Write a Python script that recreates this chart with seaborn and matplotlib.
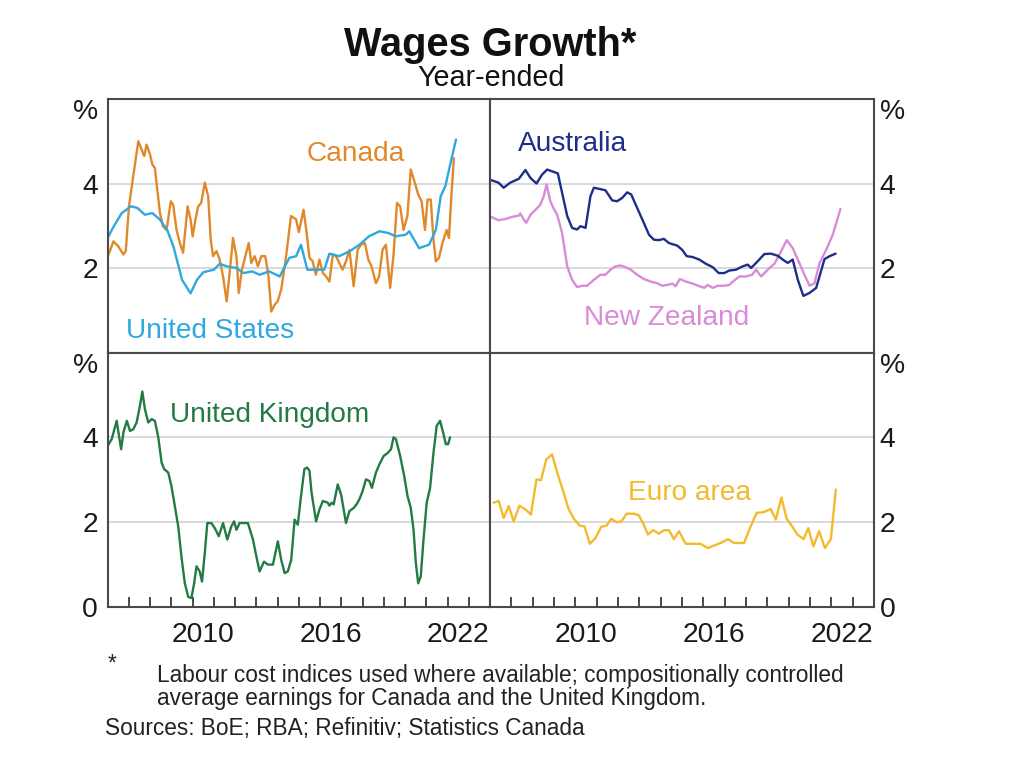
import matplotlib.pyplot as plt
import seaborn as sns
from matplotlib.ticker import FixedLocator

sns.set_style("white")
plt.rcParams['font.family'] = ['Liberation Sans', 'DejaVu Sans']

# ---- data (year, % year-ended) ----
can_x = [2006.0, 2006.1, 2006.27, 2006.5, 2006.74, 2006.85, 2007.0, 2007.2, 2007.44, 2007.6,
         2007.72, 2007.83, 2007.99, 2008.1, 2008.22, 2008.35, 2008.46, 2008.6, 2008.77, 2008.97,
         2009.08, 2009.24, 2009.4, 2009.55, 2009.76, 2009.9, 2010.0, 2010.13, 2010.26, 2010.4,
         2010.57, 2010.73, 2010.85, 2010.96, 2011.12, 2011.27, 2011.43, 2011.6, 2011.74, 2011.9,
         2012.06, 2012.17, 2012.32, 2012.48, 2012.64, 2012.76, 2012.92, 2013.07, 2013.23, 2013.42,
         2013.57, 2013.7, 2013.86, 2014.0, 2014.17, 2014.4, 2014.63, 2014.87, 2015.0, 2015.22,
         2015.35, 2015.5, 2015.65, 2015.8, 2015.97, 2016.13, 2016.28, 2016.44, 2016.6, 2016.75,
         2016.9, 2017.06, 2017.22, 2017.38, 2017.58, 2017.77, 2017.92, 2018.11, 2018.27, 2018.42,
         2018.63, 2018.78, 2018.94, 2019.1, 2019.3, 2019.46, 2019.62, 2019.77, 2019.93, 2020.11,
         2020.27, 2020.46, 2020.62, 2020.78, 2020.94, 2021.06, 2021.21, 2021.34, 2021.45, 2021.6,
         2021.76, 2021.96, 2022.07, 2022.18, 2022.3]
can_y = [2.28, 2.4, 2.63, 2.51, 2.32, 2.4, 3.46, 4.17, 5.0, 4.8,
         4.65, 4.92, 4.69, 4.45, 4.37, 3.78, 3.3, 2.99, 2.9, 3.58,
         3.5, 2.9, 2.59, 2.36, 3.46, 3.15, 2.75, 3.15, 3.46, 3.54,
         4.02, 3.7, 2.67, 2.28, 2.4, 2.2, 1.8, 1.21, 1.88, 2.71,
         2.28, 1.41, 1.96, 2.28, 2.59, 2.12, 2.28, 2.04, 2.28, 2.28,
         1.8, 0.97, 1.13, 1.21, 1.49, 2.28, 3.23, 3.15, 2.85, 3.38,
         2.9, 2.24, 2.16, 1.84, 2.2, 1.88, 1.8, 1.68, 2.32, 2.28,
         2.12, 1.96, 2.16, 2.43, 1.57, 2.43, 2.55, 2.59, 2.2, 2.04,
         1.64, 1.8, 2.43, 2.55, 1.53, 2.32, 3.54, 3.46, 2.9, 3.23,
         4.33, 4.02, 3.74, 3.58, 2.9, 3.62, 3.62, 2.67, 2.16, 2.24,
         2.59, 2.9, 2.71, 3.7, 4.6]

us_x = [2006.0, 2006.3, 2006.66, 2007.1, 2007.4, 2007.75, 2008.1, 2008.45, 2008.8, 2009.1,
        2009.5, 2009.9, 2010.2, 2010.5, 2011.0, 2011.27, 2011.6, 2012.05, 2012.4, 2012.8,
        2013.15, 2013.6, 2014.1, 2014.55, 2014.87, 2015.1, 2015.4, 2015.8, 2016.2, 2016.44,
        2016.9, 2017.4, 2017.85, 2018.3, 2018.8, 2019.2, 2019.57, 2020.04, 2020.2, 2020.66,
        2021.13, 2021.45, 2021.68, 2021.9, 2022.15, 2022.4]
us_y = [2.72, 3.0, 3.3, 3.46, 3.42, 3.26, 3.3, 3.15, 2.9, 2.5,
        1.72, 1.4, 1.72, 1.9, 1.96, 2.1, 2.04, 2.0, 1.88, 1.92,
        1.84, 1.92, 1.8, 2.24, 2.28, 2.55, 1.96, 1.96, 1.96, 2.34,
        2.28, 2.4, 2.55, 2.75, 2.87, 2.83, 2.75, 2.79, 2.87, 2.47,
        2.55, 2.9, 3.7, 3.94, 4.5, 5.04]

aus_x = [2006.05, 2006.4, 2006.64, 2006.95, 2007.35, 2007.66, 2007.9, 2008.18, 2008.44, 2008.68,
         2008.9, 2009.18, 2009.38, 2009.62, 2009.85, 2010.08, 2010.24, 2010.48, 2010.71, 2010.87,
         2011.15, 2011.41, 2011.73, 2011.96, 2012.2, 2012.43, 2012.62, 2012.9, 2013.21, 2013.45,
         2013.68, 2013.92, 2014.15, 2014.39, 2014.78, 2015.01, 2015.22, 2015.5, 2015.81, 2016.12,
         2016.44, 2016.72, 2016.98, 2017.22, 2017.53, 2017.85, 2018.08, 2018.24, 2018.55, 2018.86,
         2019.17, 2019.49, 2019.72, 2019.96, 2020.19, 2020.43, 2020.69, 2020.98, 2021.29, 2021.68,
         2021.92, 2022.2]
aus_y = [4.08, 4.02, 3.9, 4.02, 4.11, 4.32, 4.13, 4.0, 4.21, 4.33,
         4.29, 4.24, 3.78, 3.23, 2.95, 2.91, 2.99, 2.95, 3.7, 3.9,
         3.87, 3.84, 3.6, 3.58, 3.66, 3.79, 3.74, 3.42, 3.07, 2.79,
         2.67, 2.66, 2.69, 2.59, 2.53, 2.43, 2.28, 2.26, 2.2, 2.1,
         2.02, 1.88, 1.88, 1.94, 1.96, 2.04, 2.08, 2.0, 2.16, 2.33,
         2.34, 2.29, 2.2, 2.12, 2.2, 1.72, 1.34, 1.41, 1.53, 2.21,
         2.28, 2.34]

nz_x = [2006.05, 2006.4, 2006.72, 2007.03, 2007.35, 2007.42, 2007.58, 2007.7, 2007.9, 2008.18,
        2008.36, 2008.52, 2008.65, 2008.83, 2008.99, 2009.15, 2009.38, 2009.62, 2009.85, 2010.08,
        2010.32, 2010.55, 2010.87, 2011.18, 2011.41, 2011.65, 2011.88, 2012.12, 2012.35, 2012.6,
        2012.9, 2013.21, 2013.53, 2013.84, 2014.08, 2014.31, 2014.55, 2014.7, 2014.9, 2015.18,
        2015.5, 2015.81, 2016.05, 2016.2, 2016.44, 2016.67, 2016.98, 2017.22, 2017.46, 2017.69,
        2018.0, 2018.29, 2018.47, 2018.71, 2019.02, 2019.33, 2019.57, 2019.76, 2019.91, 2020.19,
        2020.43, 2020.74, 2020.98, 2021.21, 2021.45, 2021.76, 2022.07, 2022.43]
nz_y = [3.21, 3.13, 3.16, 3.21, 3.24, 3.29, 3.15, 3.07, 3.26, 3.4,
        3.5, 3.7, 3.98, 3.58, 3.4, 3.26, 2.83, 2.04, 1.72, 1.55,
        1.58, 1.58, 1.72, 1.84, 1.84, 1.96, 2.04, 2.06, 2.02, 1.96,
        1.84, 1.74, 1.68, 1.64, 1.58, 1.6, 1.63, 1.57, 1.74, 1.68,
        1.63, 1.57, 1.53, 1.6, 1.53, 1.58, 1.58, 1.6, 1.71, 1.8,
        1.8, 1.84, 1.96, 1.8, 1.96, 2.1, 2.32, 2.51, 2.66, 2.47,
        2.2, 1.84, 1.58, 1.64, 2.12, 2.43, 2.79, 3.4]

uk_x = [2006.0, 2006.19, 2006.42, 2006.63, 2006.74, 2006.9, 2007.05, 2007.2, 2007.36, 2007.52,
        2007.63, 2007.75, 2007.91, 2008.07, 2008.22, 2008.38, 2008.54, 2008.66, 2008.85, 2009.0,
        2009.16, 2009.32, 2009.47, 2009.63, 2009.79, 2009.94, 2010.07, 2010.18, 2010.33, 2010.44,
        2010.57, 2010.69, 2010.88, 2011.04, 2011.23, 2011.43, 2011.63, 2011.82, 2011.95, 2012.06,
        2012.21, 2012.45, 2012.6, 2012.84, 2013.0, 2013.15, 2013.36, 2013.54, 2013.78, 2014.01,
        2014.17, 2014.33, 2014.48, 2014.64, 2014.8, 2014.95, 2015.1, 2015.26, 2015.39, 2015.5,
        2015.6, 2015.81, 2015.97, 2016.13, 2016.36, 2016.44, 2016.55, 2016.64, 2016.83, 2016.99,
        2017.22, 2017.38, 2017.59, 2017.74, 2017.85, 2018.0, 2018.16, 2018.32, 2018.44, 2018.63,
        2018.79, 2018.99, 2019.18, 2019.34, 2019.46, 2019.57, 2019.77, 2019.96, 2020.12, 2020.27,
        2020.4, 2020.51, 2020.62, 2020.74, 2020.87, 2021.02, 2021.18, 2021.34, 2021.49, 2021.65,
        2021.81, 2021.92, 2022.03, 2022.12]
uk_y = [3.8, 3.96, 4.39, 3.72, 4.12, 4.39, 4.15, 4.19, 4.35, 4.75,
        5.08, 4.67, 4.35, 4.43, 4.39, 4.0, 3.4, 3.25, 3.17, 2.85,
        2.38, 1.9, 1.19, 0.56, 0.24, 0.21, 0.56, 0.96, 0.84, 0.6,
        1.27, 1.98, 1.98, 1.86, 1.67, 1.98, 1.59, 1.9, 2.02, 1.82,
        1.98, 1.98, 1.98, 1.59, 1.19, 0.84, 1.07, 1.0, 1.0, 1.55,
        1.11, 0.8, 0.84, 1.11, 2.06, 1.94, 2.61, 3.25, 3.29, 3.21,
        2.69, 2.02, 2.3, 2.5, 2.46, 2.39, 2.46, 2.42, 2.89, 2.65,
        1.98, 2.26, 2.34, 2.44, 2.54, 2.73, 3.01, 2.97, 2.81, 3.17,
        3.36, 3.56, 3.63, 3.72, 4.0, 3.96, 3.56, 3.09, 2.61, 2.34,
        1.82, 1.03, 0.56, 0.72, 1.59, 2.46, 2.81, 3.64, 4.27, 4.39,
        4.08, 3.84, 3.84, 4.0]

eu_x = [2006.17, 2006.41, 2006.64, 2006.88, 2007.11, 2007.38, 2007.66, 2007.92, 2008.18, 2008.39,
        2008.64, 2008.91, 2009.15, 2009.43, 2009.69, 2009.96, 2010.21, 2010.43, 2010.68, 2010.95,
        2011.21, 2011.46, 2011.68, 2011.93, 2012.17, 2012.4, 2012.75, 2012.98, 2013.21, 2013.4,
        2013.65, 2013.92, 2014.15, 2014.39, 2014.62, 2014.86, 2015.17, 2015.48, 2015.87, 2016.22,
        2016.5, 2016.81, 2017.16, 2017.44, 2017.91, 2018.22, 2018.5, 2018.85, 2019.16, 2019.4,
        2019.66, 2019.91, 2020.18, 2020.41, 2020.7, 2020.92, 2021.16, 2021.43, 2021.7, 2021.98,
        2022.21]
eu_y = [2.46, 2.5, 2.1, 2.38, 2.02, 2.39, 2.3, 2.18, 3.01, 2.99,
        3.48, 3.6, 3.17, 2.73, 2.3, 2.06, 1.92, 1.9, 1.49, 1.63,
        1.89, 1.92, 2.08, 2.0, 2.02, 2.2, 2.2, 2.16, 1.94, 1.71,
        1.81, 1.73, 1.81, 1.81, 1.6, 1.79, 1.49, 1.49, 1.49, 1.39,
        1.45, 1.51, 1.6, 1.51, 1.51, 1.9, 2.22, 2.24, 2.31, 2.06,
        2.58, 2.08, 1.89, 1.71, 1.6, 1.86, 1.43, 1.79, 1.39, 1.6,
        2.77]

year_labels = ['2010', '2016', '2022']
year_label_pos = [2010.5, 2016.5, 2022.5]

c_can, c_us = '#E0892A', '#2FA8DE'
c_aus, c_nz = '#1D2D8A', '#D98BD6'
c_uk, c_eu = '#237A45', '#F4BA2E'

fig = plt.figure(figsize=(10.24, 7.68), dpi=100)
ax_tl = fig.add_axes([0.1052, 0.5410, 0.3733, 0.3301])
ax_tr = fig.add_axes([0.4785, 0.5410, 0.3750, 0.3301])
ax_bl = fig.add_axes([0.1052, 0.2096, 0.3733, 0.3314])
ax_br = fig.add_axes([0.4785, 0.2096, 0.3750, 0.3314])

tick_fs = 20.3


def style_panel(ax, side, bottom):
    ax.set_xlim(2006, 2024)
    ax.set_ylim(0, 6)
    for s in ax.spines.values():
        s.set_color('#4a4a4a')
        s.set_linewidth(1.5)
    for yv in (2, 4):
        ax.axhline(yv, color='#cfcfcf', lw=1.1, zorder=0)
    if bottom:
        ax.set_yticks([0, 2, 4, 6])
        ax.set_yticklabels(['0', '2', '4', '%'])
    else:
        ax.set_yticks([2, 4, 6])
        ax.set_yticklabels(['2', '4', '%'])
    if side == 'right':
        ax.yaxis.tick_right()
        ax.tick_params(axis='y', length=0, labelsize=tick_fs, pad=4, colors='#1a1a1a')
    else:
        ax.tick_params(axis='y', length=0, labelsize=tick_fs, pad=7, colors='#1a1a1a')
    for t in ax.yaxis.get_major_ticks():
        if t.label1.get_text() == '%' or t.label2.get_text() == '%':
            t.label1.set_va('top')
            t.label2.set_va('top')
    if bottom:
        ax.set_xticks(year_label_pos)
        ax.set_xticklabels(year_labels)
        ax.xaxis.set_minor_locator(FixedLocator(list(range(2007, 2024))))
        ax.tick_params(axis='x', which='major', length=0, labelsize=tick_fs, pad=11, colors='#1a1a1a')
        ax.tick_params(axis='x', which='minor', direction='in', length=7, width=1.3,
                       color='#3a3a3a', bottom=True)
    else:
        ax.set_xticks([])
    ax.set_xlabel('')
    ax.set_ylabel('')


lw = 1.7
sns.lineplot(x=can_x, y=can_y, ax=ax_tl, color=c_can, lw=lw)
sns.lineplot(x=us_x, y=us_y, ax=ax_tl, color=c_us, lw=lw)
sns.lineplot(x=nz_x, y=nz_y, ax=ax_tr, color=c_nz, lw=lw)
sns.lineplot(x=aus_x, y=aus_y, ax=ax_tr, color=c_aus, lw=lw)
sns.lineplot(x=uk_x, y=uk_y, ax=ax_bl, color=c_uk, lw=lw)
sns.lineplot(x=eu_x, y=eu_y, ax=ax_br, color=c_eu, lw=lw)

style_panel(ax_tl, 'left', False)
style_panel(ax_tr, 'right', False)
style_panel(ax_bl, 'left', True)
style_panel(ax_br, 'right', True)

fs = 20.2
ax_tl.text(2017.7, 4.69, 'Canada', color=c_can, fontsize=fs, ha='center', va='center')
ax_tl.text(2010.8, 0.51, 'United States', color=c_us, fontsize=fs, ha='center', va='center')
ax_tr.text(2009.85, 4.93, 'Australia', color=c_aus, fontsize=fs, ha='center', va='center')
ax_tr.text(2014.26, 0.82, 'New Zealand', color=c_nz, fontsize=fs, ha='center', va='center')
ax_bl.text(2013.62, 4.53, 'United Kingdom', color=c_uk, fontsize=fs, ha='center', va='center')
ax_br.text(2015.34, 2.68, 'Euro area', color=c_eu, fontsize=fs, ha='center', va='center')

fig.text(0.479, 0.941, 'Wages Growth*', ha='center', va='center', fontsize=28.6,
         fontweight='bold', color='#111111')
fig.text(0.479, 0.898, 'Year-ended', ha='center', va='center', fontsize=20.6, color='#111111')

foot = 16.3
fig.text(0.105, 0.136, '*', ha='left', va='center', fontsize=foot, color='#222222')
fig.text(0.153, 0.121, 'Labour cost indices used where available; compositionally controlled',
         ha='left', va='center', fontsize=foot, color='#222222')
fig.text(0.153, 0.091, 'average earnings for Canada and the United Kingdom.',
         ha='left', va='center', fontsize=foot, color='#222222')
fig.text(0.103, 0.052, 'Sources: BoE; RBA; Refinitiv; Statistics Canada',
         ha='left', va='center', fontsize=foot, color='#222222')

fig.savefig('out.png', dpi=100)
